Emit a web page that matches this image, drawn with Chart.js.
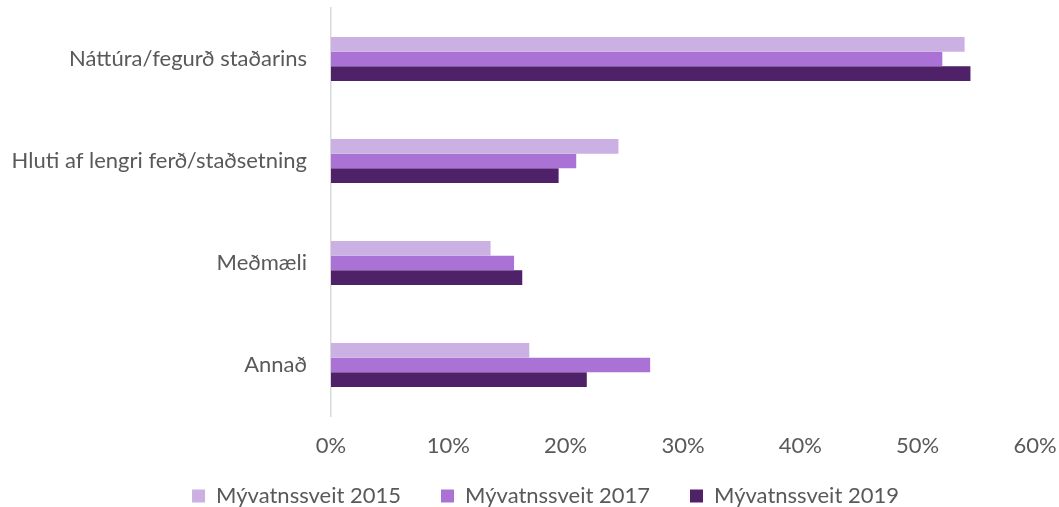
<!DOCTYPE html>
<html><head><meta charset="utf-8">
<script src="https://cdn.jsdelivr.net/npm/chart.js@4"></script>
<style>html,body{margin:0;padding:0;background:#fff}#wrap{width:1059px;height:507px}</style>
</head><body><div id="wrap"><canvas id="c"></canvas></div>
<script>
const categories = ["Náttúra/fegurð staðarins", "Hluti af lengri ferð/staðsetning", "Meðmæli", "Annað"];
const seriesNames = ["Mývatnssveit 2015", "Mývatnssveit 2017", "Mývatnssveit 2019"];
const values2015 = [54.0, 24.5, 13.6, 16.9];
const values2017 = [52.1, 20.9, 15.6, 27.2];
const values2019 = [54.5, 19.4, 16.3, 21.8];
const xTicks = [0, 10, 20, 30, 40, 50, 60];
const colors = ["#CBB0E3", "#AA72D5", "#4E2169"];

const font = {family: "Lato, 'Open Sans', sans-serif", size: 22};
const legendShift = {
  id: 'legendShift',
  afterLayout(chart) {
    const lg = chart.legend;
    if (lg) { lg.top -= 29; lg.bottom -= 29; lg.left += 16; lg.right += 16; }
  }
};
new Chart(document.getElementById('c'), {
  type: 'bar',
  data: {
    labels: categories,
    datasets: [values2015, values2017, values2019].map((d, i) => ({
      label: seriesNames[i], data: d, backgroundColor: colors[i],
      borderWidth: 0, barPercentage: 1, categoryPercentage: 0.43
    }))
  },
  options: {
    indexAxis: 'y', responsive: true, maintainAspectRatio: false, animation: false,
    layout: {padding: {top: 8, bottom: -39, left: 0, right: 0}},
    scales: {
      x: {min: 0, max: 60, afterBuildTicks: s => { s.ticks = xTicks.map(v => ({value: v})); },
        grid: {display: false, drawTicks: false}, border: {display: false},
        afterFit: s => { s.height = 58; s.paddingLeft = 0; s.paddingRight = 24; },
        ticks: {callback: v => v + '%', color: '#595959', font: font, padding: 17}},
      y: {grid: {display: false, drawTicks: false}, border: {display: true, color: '#D9D9D9', width: 1.5},
        afterFit: s => { s.width = 331; s.paddingTop = 0; s.paddingBottom = 0; },
        ticks: {color: '#595959', font: font, padding: 24}}
    },
    plugins: {
      legend: {position: 'bottom', labels: {color: '#595959', font: font, boxWidth: 13, boxHeight: 13, padding: 40}},
      tooltip: {enabled: false}
    }
  },
  plugins: [legendShift]
});
</script></body></html>
